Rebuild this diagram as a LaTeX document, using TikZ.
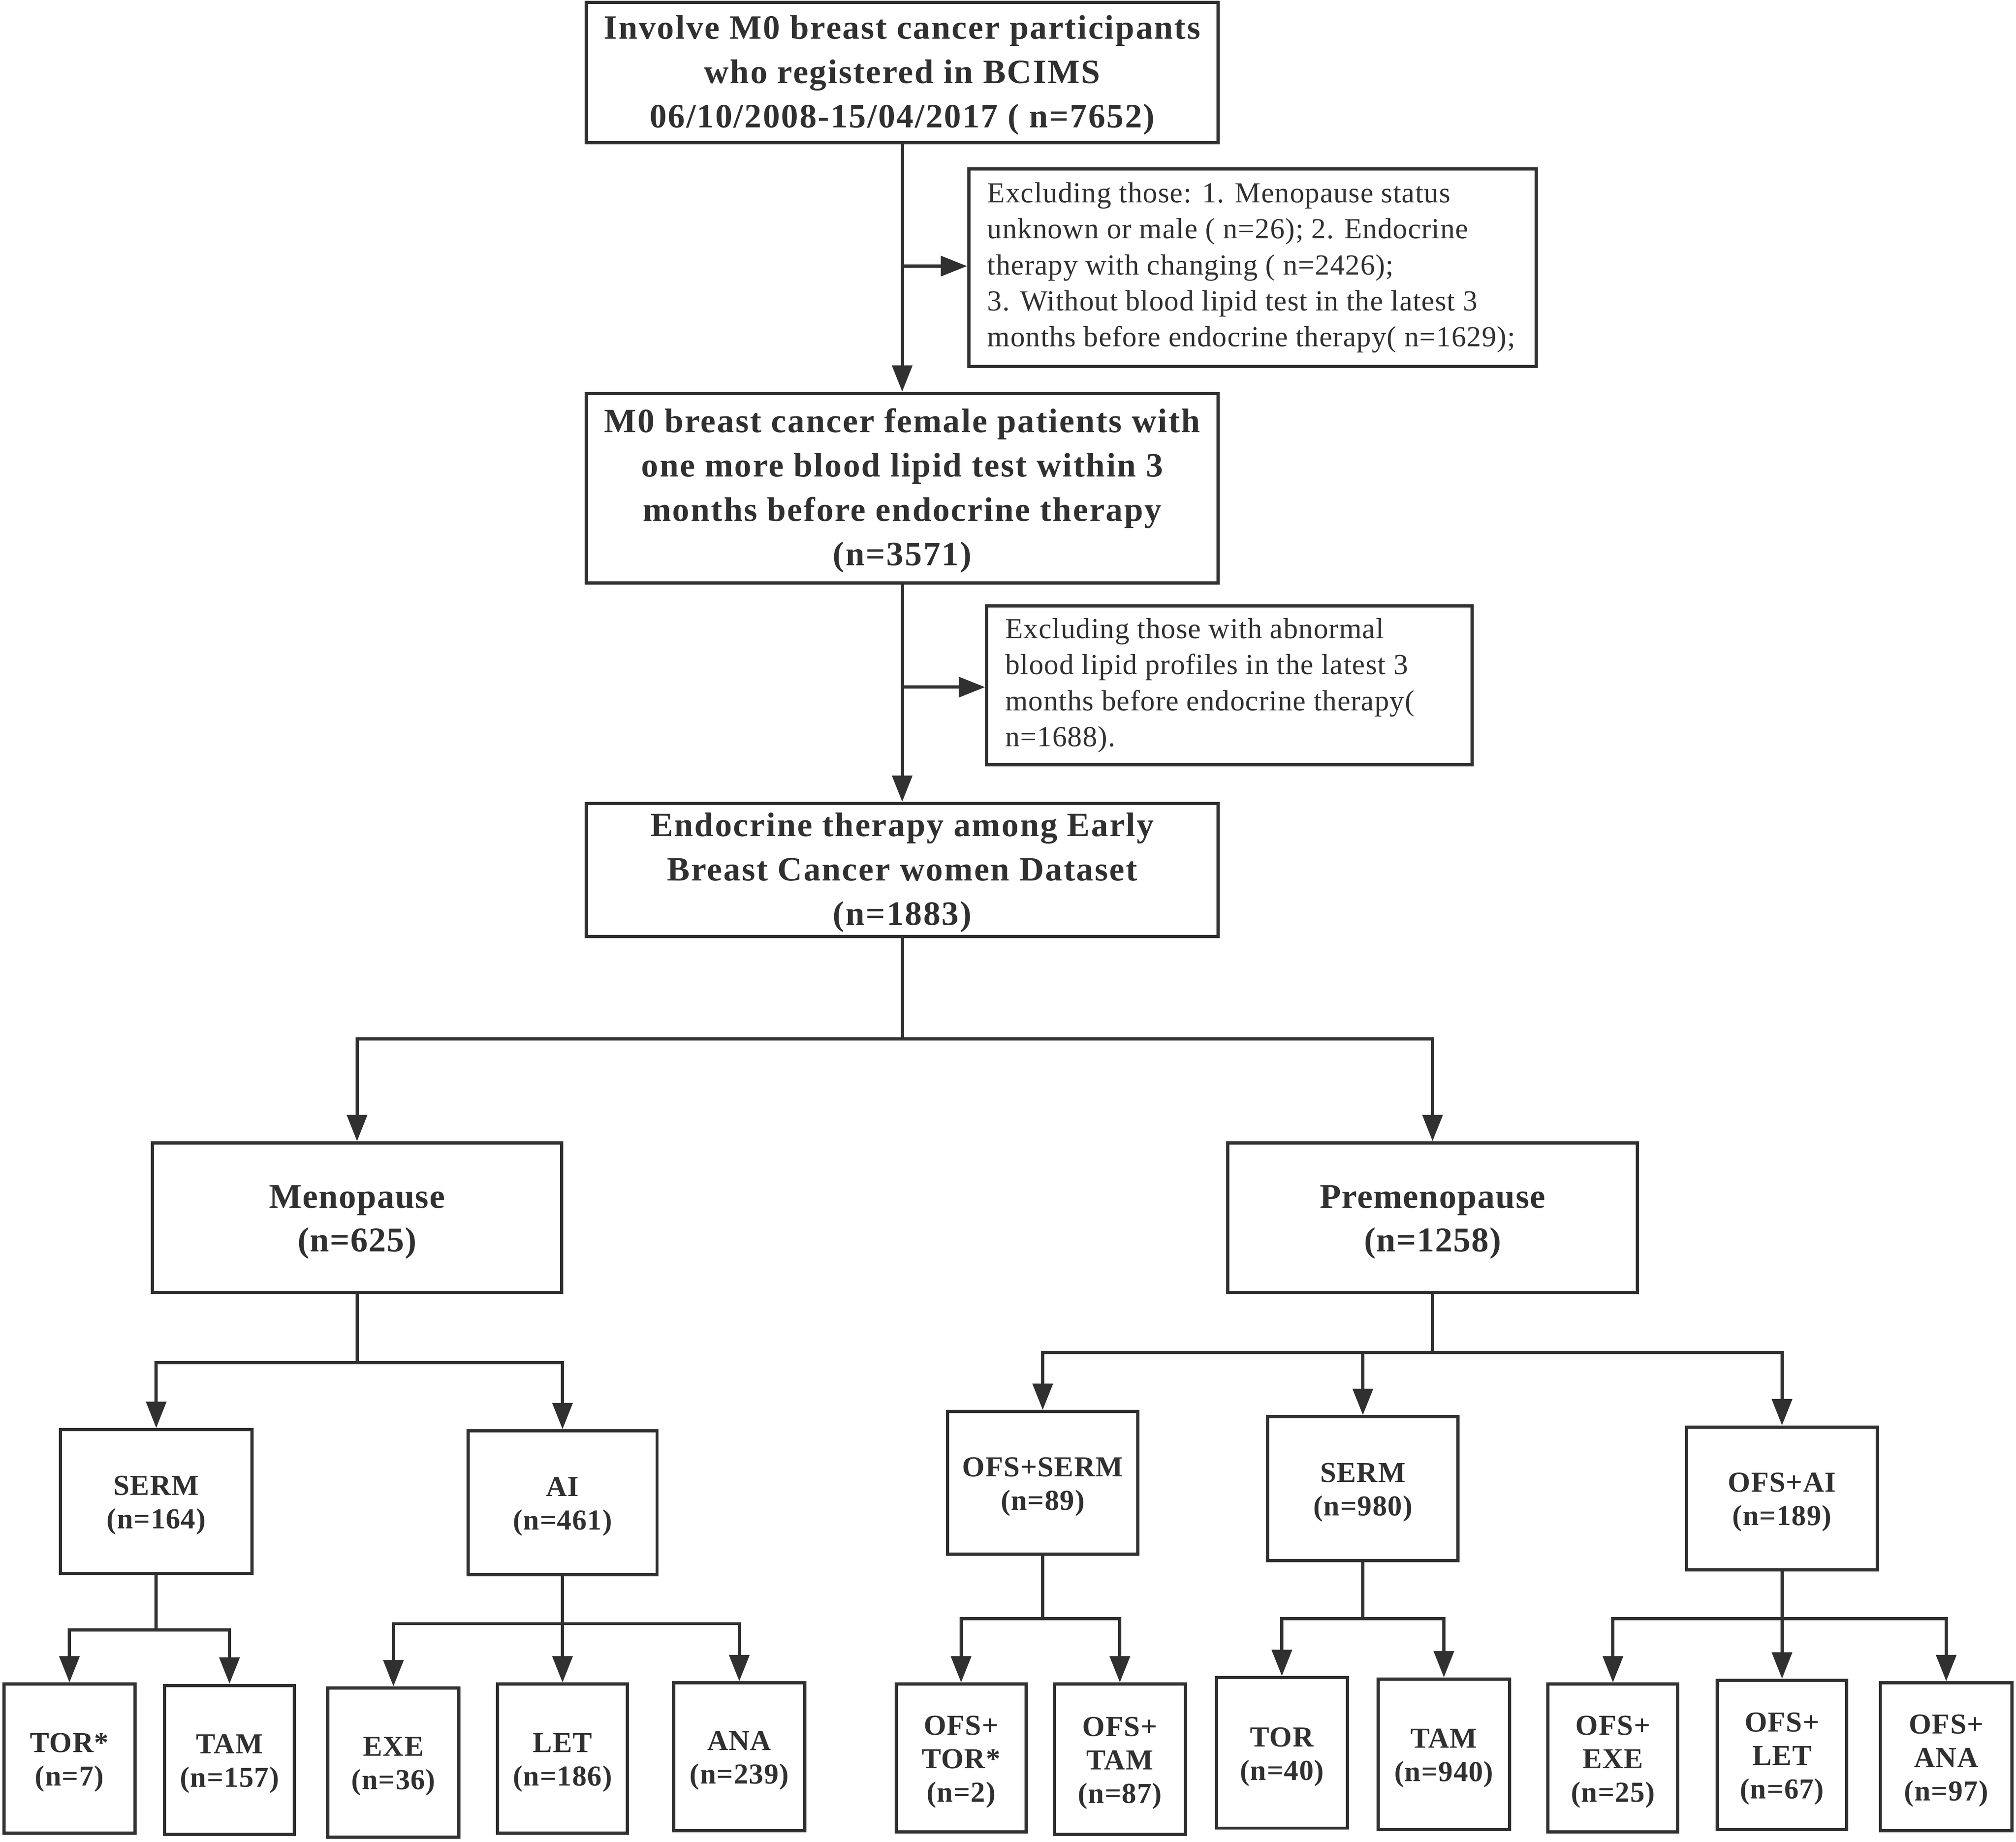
\documentclass[tikz,border=0pt]{standalone}
\usepackage{fontspec}
\setmainfont{Liberation Serif}
\newfontfamily\fbig{Liberation Serif}[LetterSpace=3.9]
\newfontfamily\fsmall{Liberation Serif}[LetterSpace=2.2]
\newfontfamily\freg{Liberation Serif}[LetterSpace=2.0]
\usetikzlibrary{arrows.meta}
\definecolor{ink}{RGB}{48,48,48}
\tikzset{
  box/.style={draw=ink, line width=2.5pt, rectangle, inner sep=0pt},
  boxtext/.style={inner sep=0pt, align=center, text=ink},
  bigtext/.style={boxtext, yshift=-2pt, font=\fbig\bfseries\fontsize{26.5}{34.5}\selectfont},
  midtext/.style={boxtext, yshift=-3.5pt, font=\fsmall\bfseries\fontsize{27}{34}\selectfont},
  smalltext/.style={boxtext, yshift=-3pt, font=\fsmall\bfseries\fontsize{22.5}{26}\selectfont},
  extext/.style={anchor=west, align=left, inner sep=0pt, text=ink, font=\freg\fontsize{22.6}{28}\selectfont},
  arr/.style={draw=ink, line width=2.5pt, -{Triangle[length=20.5pt,width=15.5pt]}},
  conn/.style={draw=ink, line width=2.5pt},
}
% #1 text style, #2 name, #3 centre, #4 width, #5 height, #6 text
\newcommand\mybox[6]{%
  \node[box, minimum width=#4pt, minimum height=#5pt] (#2) at (#3) {};
  \node[#1] (#2t) at (#2.center) {#6};}
\begin{document}
\begin{tikzpicture}[x=1pt,y=-1pt]
\useasboundingbox (0,0) rectangle (1568,1432.7);
% main column
\mybox{bigtext}{b1}{701.7,56.4}{491.5}{109}{Involve M0 breast cancer participants\\who registered in BCIMS\\06/10/2008-15/04/2017 ( n=7652)}
\node[box, minimum width=441.5pt, minimum height=153.5pt] (ex1) at (974.2,208.2) {};
\node[extext] (ex1t) at ([xshift=15.5pt]ex1.west) {Excluding those: 1. Menopause status\\unknown or male ( n=26); 2. Endocrine\\therapy with changing ( n=2426);\\3. Without blood lipid test in the latest 3\\months before endocrine therapy( n=1629);};
\mybox{bigtext}{b2}{701.7,379.7}{491.5}{147.5}{M0 breast cancer female patients with\\one more blood lipid test within 3\\months before endocrine therapy\\(n=3571)}
\node[box, minimum width=377.5pt, minimum height=123.5pt] (ex2) at (956.2,533.2) {};
\node[extext] (ex2t) at ([xshift=15.5pt]ex2.west) {Excluding those with abnormal\\blood lipid profiles in the latest 3\\months before endocrine therapy(\\n=1688).};
\mybox{bigtext}{b3}{701.7,676.7}{491.5}{103.5}{Endocrine therapy among Early\\Breast Cancer women Dataset\\(n=1883)}
% second level
\mybox{midtext}{meno}{277.7,947.2}{318.5}{116.5}{Menopause\\(n=625)}
\mybox{midtext}{pre}{1114.2,947.2}{318.5}{116.5}{Premenopause\\(n=1258)}
% third level
\mybox{smalltext}{serm1}{121.5,1168}{149}{112}{SERM\\(n=164)}
\mybox{smalltext}{ai}{437.5,1169}{147}{112}{AI\\(n=461)}
\mybox{smalltext}{ofsserm}{811,1153.5}{148}{111}{OFS+SERM\\(n=89)}
\mybox{smalltext}{serm2}{1060,1158}{148}{112}{SERM\\(n=980)}
\mybox{smalltext}{ofsai}{1386,1165.5}{148.5}{111}{OFS+AI\\(n=189)}
% bottom level
\mybox{smalltext}{tor1}{54,1368}{102}{116}{TOR*\\(n=7)}
\mybox{smalltext}{tam1}{178.5,1369}{101}{116}{TAM\\(n=157)}
\mybox{smalltext}{exe1}{306,1371}{102}{116}{EXE\\(n=36)}
\mybox{smalltext}{let1}{437.5,1368}{101}{116}{LET\\(n=186)}
\mybox{smalltext}{ana1}{575,1366.5}{102}{115}{ANA\\(n=239)}
\mybox{smalltext}{ofstor}{747.5,1367.5}{101}{115}{OFS+\\TOR*\\(n=2)}
\mybox{smalltext}{ofstam}{871,1368.5}{102}{117}{OFS+\\TAM\\(n=87)}
\mybox{smalltext}{tor2}{997,1363.5}{102}{117}{TOR\\(n=40)}
\mybox{smalltext}{tam2}{1123,1364.5}{102}{117}{TAM\\(n=940)}
\mybox{smalltext}{ofsexe}{1254.5,1367.5}{101}{115}{OFS+\\EXE\\(n=25)}
\mybox{smalltext}{ofslet}{1386,1365}{100.5}{116}{OFS+\\LET\\(n=67)}
\mybox{smalltext}{ofsana}{1513.7,1366.5}{102.5}{115}{OFS+\\ANA\\(n=97)}
% connectors: main column
\draw[arr] (b1.south) -- (b2.north);
\coordinate (j1) at (701.7,207);
\draw[arr] (j1) -- (j1 -| ex1.west);
\draw[arr] (b2.south) -- (b3.north);
\coordinate (j2) at (701.7,534.5);
\draw[arr] (j2) -- (j2 -| ex2.west);
\coordinate (s3) at (701.7,808);
\draw[conn] (b3.south) -- (s3);
\draw[arr] (s3) -| (meno.north);
\draw[arr] (s3) -| (pre.north);
% menopause
\coordinate (s4) at (277.7,1060);
\draw[conn] (meno.south) -- (s4);
\draw[arr] (s4) -| (serm1.north);
\draw[arr] (s4) -| (ai.north);
% premenopause
\coordinate (s5) at (1114.2,1052);
\draw[conn] (pre.south) -- (s5);
\draw[arr] (s5) -| (ofsserm.north);
\draw[arr] (s5) -| (ofsai.north);
\coordinate (s5m) at (s5 -| serm2.north);
\draw[arr] (s5m) -- (serm2.north);
% SERM (menopause)
\coordinate (s6) at (121.5,1268);
\draw[conn] (serm1.south) -- (s6);
\draw[arr] (s6) -| (tor1.north);
\draw[arr] (s6) -| (tam1.north);
% AI
\coordinate (s7) at (437.5,1263);
\draw[conn] (ai.south) -- (s7);
\draw[arr] (s7) -| (exe1.north);
\draw[arr] (s7) -- (let1.north);
\draw[arr] (s7) -| (ana1.north);
% OFS+SERM
\coordinate (s8) at (811,1259);
\draw[conn] (ofsserm.south) -- (s8);
\draw[arr] (s8) -| (ofstor.north);
\draw[arr] (s8) -| (ofstam.north);
% SERM (premenopause)
\coordinate (s9) at (1060,1259);
\draw[conn] (serm2.south) -- (s9);
\draw[arr] (s9) -| (tor2.north);
\draw[arr] (s9) -| (tam2.north);
% OFS+AI
\coordinate (s10) at (1386,1259);
\draw[conn] (ofsai.south) -- (s10);
\draw[arr] (s10) -| (ofsexe.north);
\draw[arr] (s10) -- (ofslet.north);
\draw[arr] (s10) -| (ofsana.north);
\end{tikzpicture}
\end{document}
